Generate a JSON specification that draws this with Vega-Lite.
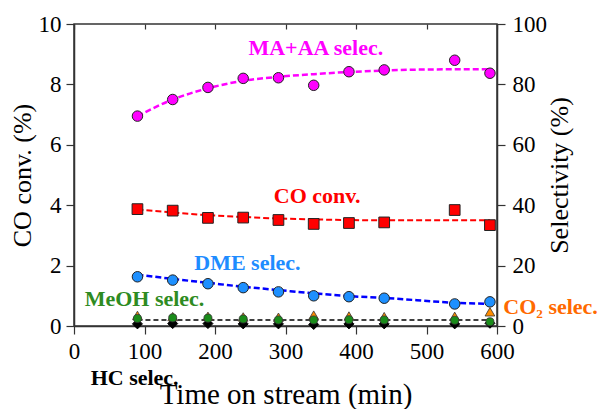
{
  "$schema": "https://vega.github.io/schema/vega-lite/v6.json",
  "width": 423,
  "height": 302,
  "autosize": {"type": "none"},
  "padding": {"left": 74, "top": 24, "right": 104, "bottom": 83},
  "config": {
    "font": "Liberation Serif",
    "view": {"stroke": "#333", "strokeWidth": 1.5},
    "axis": {
      "domainColor": "#333", "domainWidth": 1.5, "tickColor": "#333", "tickWidth": 1.2,
      "grid": false, "labelFont": "Liberation Serif", "labelFontSize": 23, "labelColor": "#000",
      "titleFont": "Liberation Serif", "titleFontSize": 26, "titleFontWeight": "normal", "titleColor": "#000"
    }
  },
  "datasets": {
    "co": [{"t": 90, "v": 3.87}, {"t": 140, "v": 3.82}, {"t": 190, "v": 3.58}, {"t": 240, "v": 3.59}, {"t": 290, "v": 3.51}, {"t": 340, "v": 3.38}, {"t": 390, "v": 3.41}, {"t": 440, "v": 3.43}, {"t": 540, "v": 3.84}, {"t": 590, "v": 3.34}],
    "cofit": [{"t": 90, "v": 3.86}, {"t": 140, "v": 3.76}, {"t": 190, "v": 3.67}, {"t": 240, "v": 3.61}, {"t": 290, "v": 3.56}, {"t": 340, "v": 3.53}, {"t": 390, "v": 3.51}, {"t": 440, "v": 3.5}, {"t": 540, "v": 3.5}, {"t": 590, "v": 3.5}],
    "ma": [{"t": 90, "v": 69.5}, {"t": 140, "v": 75.0}, {"t": 190, "v": 79.0}, {"t": 240, "v": 82.0}, {"t": 290, "v": 82.2}, {"t": 340, "v": 79.7}, {"t": 390, "v": 84.2}, {"t": 440, "v": 84.8}, {"t": 540, "v": 88.0}, {"t": 590, "v": 83.7}],
    "mafit": [{"t": 90, "v": 69.5}, {"t": 140, "v": 75.0}, {"t": 190, "v": 78.7}, {"t": 240, "v": 81.2}, {"t": 290, "v": 82.5}, {"t": 340, "v": 83.4}, {"t": 390, "v": 84.1}, {"t": 440, "v": 84.6}, {"t": 540, "v": 85.0}, {"t": 590, "v": 85.0}],
    "dme": [{"t": 90, "v": 16.3}, {"t": 140, "v": 15.2}, {"t": 190, "v": 14.0}, {"t": 240, "v": 12.7}, {"t": 290, "v": 11.3}, {"t": 340, "v": 10.0}, {"t": 390, "v": 9.7}, {"t": 440, "v": 9.2}, {"t": 540, "v": 7.3}, {"t": 590, "v": 8.0}],
    "dmefit": [{"t": 90, "v": 17.0}, {"t": 140, "v": 15.6}, {"t": 190, "v": 14.3}, {"t": 240, "v": 13.0}, {"t": 290, "v": 11.9}, {"t": 340, "v": 10.8}, {"t": 390, "v": 9.9}, {"t": 440, "v": 9.3}, {"t": 540, "v": 7.7}, {"t": 590, "v": 7.3}],
    "co2": [{"t": 90, "v": 3.5}, {"t": 140, "v": 3.1}, {"t": 190, "v": 3.2}, {"t": 240, "v": 3.0}, {"t": 290, "v": 2.9}, {"t": 340, "v": 3.6}, {"t": 390, "v": 3.3}, {"t": 440, "v": 3.1}, {"t": 540, "v": 3.2}, {"t": 590, "v": 4.7}],
    "meoh": [{"t": 90, "v": 2.5}, {"t": 140, "v": 2.7}, {"t": 190, "v": 2.6}, {"t": 240, "v": 2.3}, {"t": 290, "v": 2.0}, {"t": 340, "v": 2.0}, {"t": 390, "v": 2.1}, {"t": 440, "v": 2.0}, {"t": 540, "v": 1.9}, {"t": 590, "v": 1.4}],
    "hc": [{"t": 90, "v": 0.7}, {"t": 140, "v": 0.8}, {"t": 190, "v": 0.8}, {"t": 240, "v": 0.7}, {"t": 290, "v": 0.7}, {"t": 340, "v": 0.5}, {"t": 390, "v": 0.7}, {"t": 440, "v": 0.7}, {"t": 540, "v": 0.7}, {"t": 590, "v": 0.9}],
    "hcline": [{"t": 90, "v": 2.0}, {"t": 590, "v": 2.0}],
    "labels": [
      {"label": "MA+AA selec.", "s": "ma", "t": 343, "v": 91.9},
      {"label": "DME selec.", "s": "dme", "t": 246, "v": 20.9},
      {"label": "MeOH selec.", "s": "meoh", "t": 100, "v": 8.9},
      {"label": "HC selec.", "s": "hc", "t": 86, "v": -17.2},
      {"label": "CO₂ selec.", "s": "co2", "t": 676, "v": 6.3}
    ],
    "colabel": [{"label": "CO conv.", "t": 345, "v": 4.3}]
  },
  "resolve": {"scale": {"y": "independent"}, "axis": {"x": "independent", "y": "independent"}},
  "layer": [
    {
      "layer": [
        {
          "data": {"name": "cofit"},
          "mark": {"type": "line", "color": "#FF0000", "strokeWidth": 2, "strokeDash": [6, 3], "interpolate": "monotone"},
          "encoding": {
            "x": {"field": "t", "type": "quantitative", "scale": {"domain": [0, 600], "nice": false},
                  "axis": {"orient": "bottom", "title": "Time on stream (min)", "labelFont": "Liberation Serif", "titleFont": "Liberation Serif", "labelFontSize": 23, "titleFontSize": 29, "values": [0, 50, 100, 150, 200, 250, 300, 350, 400, 450, 500, 550, 600], "labelExpr": "datum.value % 100 === 0 ? datum.label : ''", "tickSize": 8, "labelPadding": 6, "titlePadding": 17, "labelFlush": false}},
            "y": {"field": "v", "type": "quantitative", "scale": {"domain": [0, 10], "nice": false},
                  "axis": {"orient": "left", "title": "CO conv. (%)", "labelFont": "Liberation Serif", "titleFont": "Liberation Serif", "labelFontSize": 23, "titleFontSize": 26, "values": [0, 1, 2, 3, 4, 5, 6, 7, 8, 9, 10], "labelExpr": "datum.value % 2 === 0 ? datum.label : ''", "tickSize": 8, "labelPadding": 5, "titlePadding": 3}}
          }
        },
        {
          "data": {"name": "co"},
          "mark": {"type": "point", "shape": "square", "filled": true, "fill": "#FF0000", "stroke": "#222", "strokeWidth": 1, "size": 115, "opacity": 1},
          "encoding": {"x": {"field": "t", "type": "quantitative"}, "y": {"field": "v", "type": "quantitative"}}
        },
        {
          "data": {"name": "colabel"},
          "mark": {"type": "text", "font": "Liberation Serif", "fontSize": 22, "fontWeight": "bold", "color": "#FF0000", "align": "center", "baseline": "middle"},
          "encoding": {"x": {"field": "t", "type": "quantitative"}, "y": {"field": "v", "type": "quantitative"}, "text": {"field": "label"}}
        }
      ]
    },
    {
      "layer": [
        {
          "data": {"name": "hcline"},
          "mark": {"type": "line", "color": "#000", "strokeWidth": 1.5, "strokeDash": [5, 3]},
          "encoding": {
            "x": {"field": "t", "type": "quantitative", "scale": {"domain": [0, 600], "nice": false},
                  "axis": {"orient": "top", "title": null, "labels": false, "domain": false, "values": [0, 50, 100, 150, 200, 250, 300, 350, 400, 450, 500, 550, 600], "tickSize": -5}},
            "y": {"field": "v", "type": "quantitative", "scale": {"domain": [0, 100], "nice": false},
                  "axis": {"orient": "right", "title": "Selectivity (%)", "labelFont": "Liberation Serif", "titleFont": "Liberation Serif", "labelFontSize": 23, "titleFontSize": 26, "titleAngle": -90, "titleBaseline": "top", "values": [0, 10, 20, 30, 40, 50, 60, 70, 80, 90, 100], "labelExpr": "datum.value % 20 === 0 ? datum.label : ''", "tickSize": 8, "labelPadding": 7, "titlePadding": 0}}
          }
        },
        {
          "data": {"name": "mafit"},
          "mark": {"type": "line", "color": "#FF00FF", "strokeWidth": 2.5, "strokeDash": [6, 3], "interpolate": "monotone"},
          "encoding": {"x": {"field": "t", "type": "quantitative"}, "y": {"field": "v", "type": "quantitative"}}
        },
        {
          "data": {"name": "dmefit"},
          "mark": {"type": "line", "color": "#0000FF", "strokeWidth": 2.5, "strokeDash": [6, 3], "interpolate": "monotone"},
          "encoding": {"x": {"field": "t", "type": "quantitative"}, "y": {"field": "v", "type": "quantitative"}}
        },
        {
          "data": {"name": "ma"},
          "mark": {"type": "point", "shape": "circle", "filled": true, "fill": "#FF00FF", "stroke": "#222", "strokeWidth": 1, "size": 110, "opacity": 1},
          "encoding": {"x": {"field": "t", "type": "quantitative"}, "y": {"field": "v", "type": "quantitative"}}
        },
        {
          "data": {"name": "dme"},
          "mark": {"type": "point", "shape": "circle", "filled": true, "fill": "#1E90FF", "stroke": "#222", "strokeWidth": 1, "size": 110, "opacity": 1},
          "encoding": {"x": {"field": "t", "type": "quantitative"}, "y": {"field": "v", "type": "quantitative"}}
        },
        {
          "data": {"name": "co2"},
          "mark": {"type": "point", "shape": "triangle-up", "filled": true, "fill": "#FF8C00", "stroke": "#333", "strokeWidth": 0.8, "size": 95, "opacity": 1},
          "encoding": {"x": {"field": "t", "type": "quantitative"}, "y": {"field": "v", "type": "quantitative"}}
        },
        {
          "data": {"name": "hc"},
          "mark": {"type": "point", "shape": "diamond", "filled": true, "fill": "#000", "stroke": "#000", "strokeWidth": 1, "size": 100, "opacity": 1},
          "encoding": {"x": {"field": "t", "type": "quantitative"}, "y": {"field": "v", "type": "quantitative"}}
        },
        {
          "data": {"name": "meoh"},
          "mark": {"type": "point", "shape": "circle", "filled": true, "fill": "#1A8C1A", "stroke": "#333", "strokeWidth": 0.8, "size": 65, "opacity": 1},
          "encoding": {"x": {"field": "t", "type": "quantitative"}, "y": {"field": "v", "type": "quantitative"}}
        },
        {
          "data": {"name": "labels"},
          "mark": {"type": "text", "font": "Liberation Serif", "fontSize": 22, "fontWeight": "bold", "align": "center", "baseline": "middle"},
          "encoding": {
            "x": {"field": "t", "type": "quantitative"},
            "y": {"field": "v", "type": "quantitative"},
            "text": {"field": "label"},
            "color": {"field": "s", "type": "nominal", "legend": null,
                      "scale": {"domain": ["ma", "dme", "meoh", "hc", "co2"], "range": ["#FF00FF", "#1E8CFF", "#2E8B22", "#000000", "#FF6A00"]}}
          }
        }
      ]
    }
  ]
}
